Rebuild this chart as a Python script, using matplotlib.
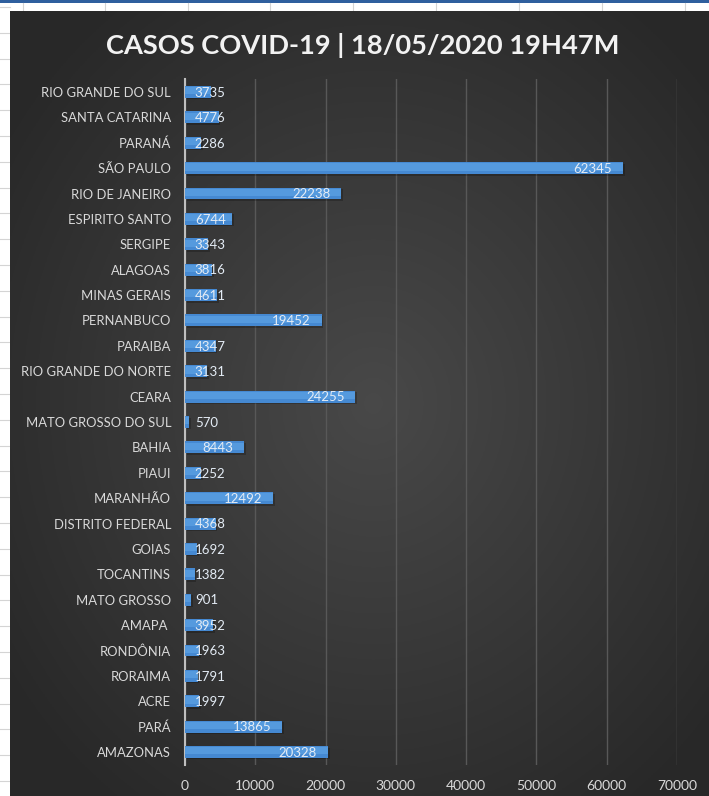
import numpy as np
import matplotlib.pyplot as plt
from matplotlib.patches import Rectangle

states = ['RIO GRANDE DO SUL', 'SANTA CATARINA', 'PARANÁ', 'SÃO PAULO', 'RIO DE JANEIRO',
          'ESPIRITO SANTO', 'SERGIPE', 'ALAGOAS', 'MINAS GERAIS', 'PERNANBUCO', 'PARAIBA',
          'RIO GRANDE DO NORTE', 'CEARA', 'MATO GROSSO DO SUL', 'BAHIA', 'PIAUI', 'MARANHÃO',
          'DISTRITO FEDERAL', 'GOIAS', 'TOCANTINS', 'MATO GROSSO', 'AMAPA ', 'RONDÔNIA',
          'RORAIMA', 'ACRE', 'PARÁ', 'AMAZONAS']
cases = [3735, 4776, 2286, 62345, 22238, 6744, 3343, 3816, 4611, 19452, 4347, 3131, 24255,
         570, 8443, 2252, 12492, 4368, 1692, 1382, 901, 3952, 1963, 1791, 1997, 13865, 20328]
xticks = [0, 10000, 20000, 30000, 40000, 50000, 60000, 70000]
title = 'CASOS COVID-19 | 18/05/2020 19H47M'

W, H = 709, 796
plt.rcParams['font.family'] = ['Lato', 'DejaVu Sans']
fig = plt.figure(figsize=(W / 100, H / 100), dpi=100, facecolor='white')

# spreadsheet behind the chart
sheet = fig.add_axes([0, 0, 1, 1])
sheet.set_xlim(0, W)
sheet.set_ylim(H, 0)
sheet.axis('off')
sheet.add_patch(Rectangle((0, 0), W, 2.5, color='#2f5f9e', lw=0))
for x in [23, 105, 188, 270, 353, 436, 519, 602, 685]:
    sheet.plot([x, x], [2.5, 11], color='#d4d4d4', lw=0.8)
for y in np.arange(7, H, 25.8):
    sheet.plot([0, 10], [y, y], color='#d4d4d4', lw=0.8)

# chart area with radial gradient
bg = fig.add_axes([10 / W, 0, 1 - 10 / W, 1 - 11 / H])
yy, xx = np.mgrid[0:1:300j, 0:1:300j]
r = np.sqrt(((xx - 0.52) / 0.75) ** 2 + ((yy - 0.5) / 0.75) ** 2)
g = np.clip(0.285 - 0.15 * r, 0.16, 0.3)
bg.imshow(np.dstack([g, g, g]), extent=[0, 1, 0, 1], aspect='auto')
bg.axis('off')

ax = fig.add_axes([185 / W, (H - 764.7) / H, (677 - 185) / W, 685.4 / H])
ax.patch.set_alpha(0)
pos = np.arange(len(states))
bh = 0.47
# soft shadow, bar, slight highlight
ax.barh(pos + 0.06, cases, height=bh, left=250, color='black', alpha=0.22, zorder=2)
ax.barh(pos, cases, height=bh, color='#4589d2', zorder=3)
ax.barh(pos - bh * 0.1, cases, height=bh * 0.6, color='#559ade', zorder=3)

for p, v in zip(pos, cases):
    s = str(v)
    if v - 1550 - len(s) * 1200 > 1400:
        ax.text(v - 1550, p + 0.03, s, ha='right', va='center', color='#e4ecf5', fontsize=9.5, zorder=4)
    else:
        ax.text(1400, p + 0.03, s, ha='left', va='center', color='#e4ecf5', fontsize=9.5, zorder=4)

ax.set_xlim(0, 70000)
ax.set_ylim(len(states) - 0.5, -0.5)
ax.set_xticks(xticks)
ax.set_xticklabels([str(t) for t in xticks])
ax.set_yticks(pos)
ax.set_yticklabels(states, fontsize=9.4)
ax.grid(axis='x', color='#585858', lw=1, zorder=0)
ax.set_axisbelow(True)
for sp in ['top', 'right', 'bottom']:
    ax.spines[sp].set_visible(False)
ax.spines['left'].set_color('#bfbfbf')
ax.spines['left'].set_linewidth(1.5)
ax.tick_params(axis='both', length=0, colors='#d9d9d9')
ax.tick_params(axis='x', labelsize=10, pad=11)
ax.tick_params(axis='y', pad=10)

fig.text(363 / W, 1 - 45 / H, title, ha='center', va='center', color='#f2f2f2',
         fontsize=19.6, fontweight='bold')

fig.savefig('out.png', dpi=100, facecolor='white')
